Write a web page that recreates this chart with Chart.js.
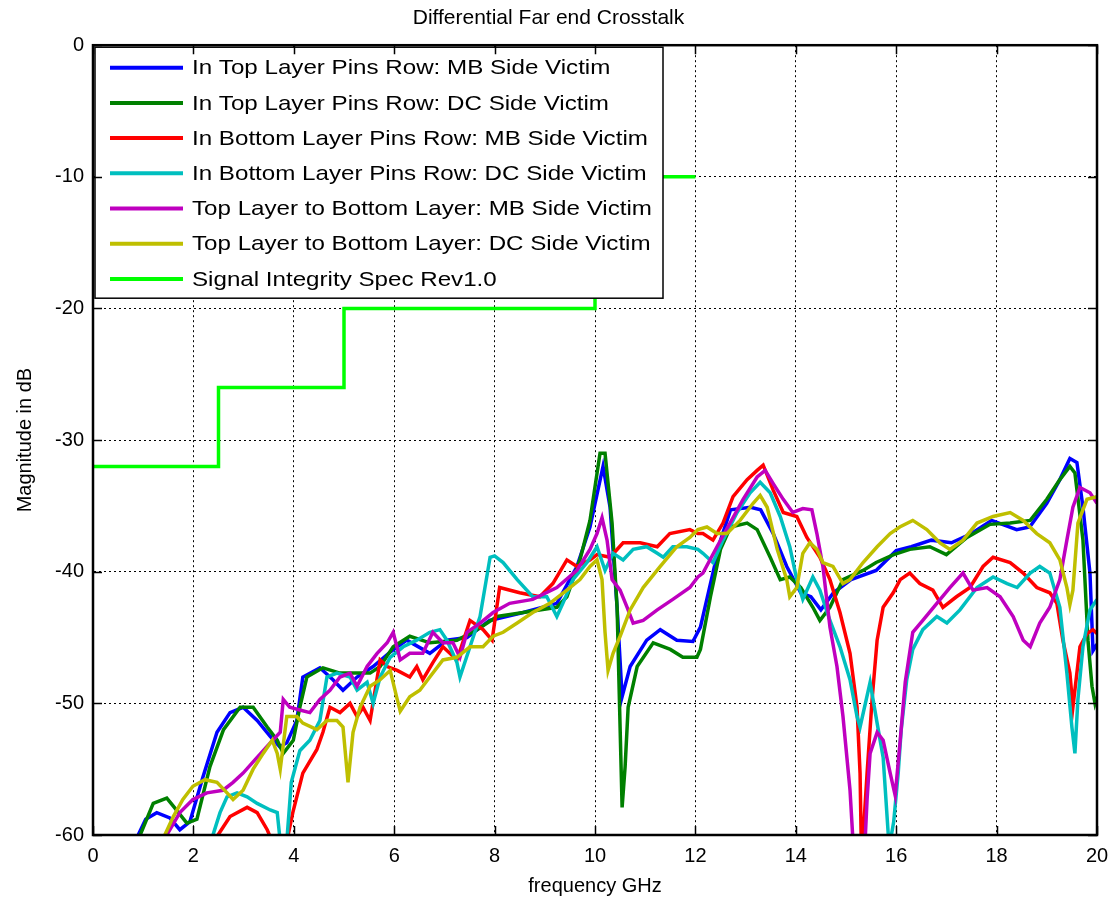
<!DOCTYPE html>
<html>
<head>
<meta charset="utf-8">
<script src="https://cdn.jsdelivr.net/npm/chart.js@4.4.1/dist/chart.umd.min.js"></script>
<style>
  html, body { margin: 0; padding: 0; background: #fff; }
  #wrap { width: 1113px; height: 903px; }
</style>
</head>
<body>
<div id="wrap"><canvas id="xtalk"></canvas></div>
<script>
// tick values
const freqTicks = [0, 2, 4, 6, 8, 10, 12, 14, 16, 18, 20];
const dbTicks = [0, -10, -20, -30, -40, -50, -60];

const seriesLabels = [
  'In Top Layer Pins Row: MB Side Victim',
  'In Top Layer Pins Row: DC Side Victim',
  'In Bottom Layer Pins Row: MB Side Victim',
  'In Bottom Layer Pins Row: DC Side Victim',
  'Top Layer to Bottom Layer: MB Side Victim',
  'Top Layer to Bottom Layer: DC Side Victim',
  'Signal Integrity Spec Rev1.0'
];

// In Top Layer Pins Row: MB Side Victim
const topMbFreq = [0.85, 0.9, 1.05, 1.27, 1.53, 1.73, 1.93, 2.19, 2.47, 2.73, 2.99, 3.27, 3.53, 3.72, 3.86, 4.06, 4.18, 4.52, 4.78, 4.98, 5.26, 5.58, 5.92, 6.25, 6.71, 7.05, 7.45, 7.9, 8.57, 9.24, 9.64, 9.9, 10.16, 10.3, 10.44, 10.54, 10.7, 11.03, 11.3, 11.63, 11.95, 12.1, 12.3, 12.5, 12.7, 13.1, 13.3, 13.55, 13.82, 14.1, 14.3, 14.5, 14.75, 15.1, 15.6, 16.0, 16.3, 16.7, 17.1, 17.5, 17.9, 18.4, 18.66, 19.0, 19.26, 19.46, 19.6, 19.72, 19.86, 19.92, 20];
const topMbDb = [-61, -60, -58.8, -58.3, -58.7, -59.6, -59, -55.6, -52.2, -50.7, -50.3, -51.3, -52.5, -53.3, -53, -51.3, -48, -47.3, -48.2, -49, -48, -47.2, -46.1, -45.2, -46.2, -45.2, -45, -43.7, -43.1, -42.4, -39.6, -36.6, -32, -35.1, -42.7, -49.5, -47.2, -45.2, -44.4, -45.2, -45.3, -44.2, -40.9, -37.6, -35.3, -35.1, -35.3, -37.1, -39.6, -41.6, -41.9, -42.9, -41.6, -40.6, -39.9, -38.4, -38.1, -37.6, -37.8, -37.1, -36.1, -36.8, -36.6, -34.8, -33, -31.4, -31.7, -35.1, -40.1, -46, -45.5];

// In Top Layer Pins Row: DC Side Victim
const topDcFreq = [0.9, 0.94, 1.2, 1.47, 1.6, 1.87, 2.07, 2.33, 2.6, 2.93, 3.19, 3.47, 3.67, 3.79, 3.99, 4.12, 4.26, 4.58, 4.92, 5.26, 5.52, 5.72, 5.98, 6.31, 6.71, 7.25, 7.65, 8.05, 8.57, 9.24, 9.44, 9.7, 9.9, 10.1, 10.2, 10.34, 10.44, 10.54, 10.6, 10.66, 10.84, 11.16, 11.5, 11.75, 12.03, 12.1, 12.3, 12.5, 12.7, 13.03, 13.23, 13.49, 13.69, 13.88, 14.1, 14.34, 14.48, 14.68, 14.94, 15.34, 15.6, 15.95, 16.27, 16.67, 17.0, 17.41, 17.87, 18.27, 18.67, 19.0, 19.26, 19.46, 19.56, 19.72, 19.82, 19.9, 19.96, 20];
const topDcDb = [-61, -60, -57.6, -57.2, -57.8, -59.1, -58.8, -54.8, -52, -50.3, -50.3, -51.8, -52.8, -53.8, -52.8, -50.3, -48, -47.3, -47.7, -47.7, -47.7, -47.2, -45.7, -44.9, -45.4, -45.2, -44.4, -43.4, -43.1, -42.7, -41.9, -39.1, -36.1, -31, -31, -36.3, -42.7, -57.9, -54.8, -50.3, -47.2, -45.4, -45.9, -46.5, -46.5, -45.9, -41.9, -38.3, -36.6, -36.3, -36.8, -38.9, -40.6, -40.4, -41.2, -42.7, -43.7, -42.7, -40.6, -39.9, -39.3, -38.7, -38.3, -38.1, -38.7, -37.4, -36.4, -36.3, -36.1, -34.5, -33, -32, -32.5, -37.6, -45.2, -48.7, -50, -49.5];

// In Bottom Layer Pins Row: MB Side Victim
const botMbFreq = [2.45, 2.49, 2.73, 3.07, 3.27, 3.47, 3.57, 3.72, 3.86, 3.98, 4.18, 4.46, 4.58, 4.72, 4.92, 5.12, 5.26, 5.38, 5.52, 5.72, 5.86, 6.06, 6.31, 6.45, 6.57, 6.77, 6.97, 7.25, 7.51, 7.77, 7.95, 8.1, 8.5, 8.9, 9.16, 9.44, 9.64, 9.9, 10.04, 10.3, 10.56, 10.9, 11.24, 11.49, 11.89, 12.05, 12.15, 12.35, 12.55, 12.75, 13.03, 13.23, 13.35, 13.55, 13.75, 14.02, 14.22, 14.48, 14.68, 14.88, 15.08, 15.22, 15.28, 15.31, 15.42, 15.52, 15.62, 15.74, 15.94, 16.08, 16.27, 16.47, 16.73, 16.93, 17.2, 17.47, 17.73, 17.93, 18.27, 18.53, 18.8, 19.06, 19.2, 19.32, 19.46, 19.52, 19.66, 19.8, 19.92, 20];
const botMbDb = [-61, -60, -58.6, -57.9, -58.3, -59.6, -60.5, -62, -60.5, -58.3, -55.3, -53.5, -52.2, -50.3, -50.7, -50, -51, -50.3, -51.3, -46.7, -47.2, -47.5, -48, -47.2, -48.2, -46.9, -45.7, -46.7, -43.7, -44.4, -45.2, -41.2, -41.6, -41.9, -40.9, -39.1, -39.6, -39.1, -38.7, -38.9, -37.8, -37.8, -38.1, -37.1, -36.8, -37.1, -37.1, -37.6, -36.3, -34.3, -33, -32.3, -31.9, -33.8, -35.5, -35.8, -37.4, -38.9, -40.6, -43.1, -46.2, -50.3, -55.3, -62, -55.3, -49.7, -45.2, -42.7, -41.6, -40.6, -40.1, -40.9, -41.4, -42.7, -41.9, -41.2, -39.6, -38.9, -39.3, -40.1, -41.2, -41.6, -42.4, -45.2, -47.7, -50.3, -45.7, -44.7, -44.4, -44.7];

// In Bottom Layer Pins Row: DC Side Victim
const botDcFreq = [2.35, 2.39, 2.53, 2.67, 2.87, 3.07, 3.27, 3.53, 3.67, 3.73, 3.8, 3.86, 3.95, 4.12, 4.32, 4.52, 4.66, 4.86, 5.12, 5.26, 5.46, 5.58, 5.72, 5.92, 6.18, 6.45, 6.71, 6.91, 7.05, 7.25, 7.31, 7.51, 7.71, 7.91, 8.0, 8.17, 8.45, 8.76, 9.04, 9.24, 9.36, 9.56, 9.84, 10.04, 10.2, 10.36, 10.56, 10.76, 11.03, 11.24, 11.36, 11.55, 11.83, 12.05, 12.15, 12.35, 12.55, 12.83, 13.09, 13.29, 13.49, 13.69, 13.88, 14.02, 14.14, 14.34, 14.48, 14.68, 14.88, 15.08, 15.22, 15.28, 15.48, 15.62, 15.74, 15.86, 15.95, 16.04, 16.1, 16.21, 16.33, 16.53, 16.81, 17.01, 17.27, 17.61, 17.93, 18.21, 18.41, 18.67, 18.86, 19.06, 19.26, 19.4, 19.5, 19.56, 19.62, 19.72, 19.86, 20];
const botDcDb = [-61, -60, -58.3, -57.1, -56.8, -57.1, -57.6, -58.1, -58.3, -60.5, -62, -60.5, -56, -53.6, -52.8, -51.3, -48, -47.7, -48, -49, -48.4, -50, -48, -46.5, -45.7, -45.2, -44.6, -44.4, -45.2, -46.9, -48, -45.7, -43.4, -38.9, -38.8, -39.3, -40.6, -41.9, -41.9, -43.4, -42.4, -40.6, -39.3, -38.1, -39.9, -38.6, -39.1, -38.3, -38.1, -38.6, -38.9, -38.1, -38.1, -38.3, -38.6, -39.3, -37.6, -35.5, -34, -33.2, -34, -35.8, -38.1, -40.6, -42.1, -40.4, -41.4, -43.7, -45.7, -48.2, -51, -51.8, -48.4, -51.5, -54.1, -61, -59, -55.3, -52, -48.2, -45.9, -44.4, -43.4, -43.9, -42.9, -41.2, -40.4, -40.9, -41.2, -40.1, -39.6, -40.1, -42.7, -47.7, -51.8, -53.8, -49.7, -45.7, -42.9, -42.1];

// Top Layer to Bottom Layer: MB Side Victim
const tbMbFreq = [1.43, 1.47, 1.73, 1.99, 2.27, 2.59, 2.79, 2.99, 3.27, 3.53, 3.73, 3.79, 3.92, 4.12, 4.32, 4.52, 4.72, 4.92, 5.12, 5.26, 5.46, 5.66, 5.86, 5.98, 6.12, 6.31, 6.57, 6.77, 6.97, 7.17, 7.31, 7.45, 7.71, 7.97, 8.3, 8.76, 9.24, 9.64, 9.9, 10.04, 10.14, 10.24, 10.34, 10.5, 10.64, 10.76, 10.96, 11.24, 11.55, 11.89, 12.05, 12.15, 12.43, 12.69, 12.95, 13.23, 13.39, 13.55, 13.75, 13.94, 14.14, 14.32, 14.42, 14.54, 14.68, 14.82, 14.94, 15.08, 15.14, 15.25, 15.38, 15.42, 15.48, 15.62, 15.74, 15.88, 15.98, 16.08, 16.18, 16.33, 16.53, 16.81, 17.07, 17.33, 17.53, 17.81, 18.07, 18.33, 18.53, 18.67, 18.86, 19.06, 19.26, 19.4, 19.52, 19.66, 19.86, 20];
const tbMbDb = [-61, -60, -58.3, -57.3, -56.8, -56.6, -56, -55.3, -54.1, -53, -52.2, -49.7, -50.3, -50.5, -50.7, -49.7, -49, -48, -47.7, -48.7, -47.2, -46.2, -45.4, -44.6, -46.7, -46.2, -46.2, -44.6, -45.4, -45.4, -46.5, -44.6, -43.9, -43.1, -42.4, -42.1, -41.2, -39.9, -38.3, -37.1, -35.9, -37.6, -40.6, -41.4, -42.7, -43.9, -43.7, -42.9, -42.1, -41.2, -40.4, -40.1, -38.1, -36.3, -34.5, -32.8, -32.3, -33.3, -34.5, -35.5, -35.2, -35.3, -37.1, -39.6, -44.2, -47.2, -51, -56.6, -60.5, -63, -60.5, -57.3, -53.8, -52.2, -52.8, -55.3, -57, -52.8, -48.4, -44.6, -43.7, -42.4, -41.2, -40.1, -41.4, -41.2, -41.9, -43.4, -45.2, -45.7, -43.9, -42.7, -40.6, -37.6, -35.1, -33.6, -34, -34.8];

// Top Layer to Bottom Layer: DC Side Victim
const tbDcFreq = [1.4, 1.43, 1.6, 1.79, 1.99, 2.23, 2.47, 2.67, 2.79, 2.99, 3.19, 3.39, 3.57, 3.67, 3.73, 3.86, 4.06, 4.18, 4.46, 4.66, 4.86, 4.98, 5.08, 5.18, 5.32, 5.52, 5.72, 5.92, 6.06, 6.12, 6.31, 6.51, 6.71, 6.97, 7.25, 7.51, 7.77, 7.97, 8.17, 8.45, 8.76, 9.1, 9.44, 9.7, 9.9, 10.04, 10.14, 10.2, 10.26, 10.36, 10.5, 10.7, 10.96, 11.3, 11.63, 11.89, 12.05, 12.23, 12.43, 12.63, 12.89, 13.15, 13.29, 13.43, 13.63, 13.82, 13.88, 14.02, 14.14, 14.28, 14.42, 14.54, 14.74, 14.94, 15.08, 15.34, 15.62, 15.88, 16.07, 16.33, 16.61, 16.87, 17.07, 17.33, 17.61, 17.93, 18.27, 18.53, 18.8, 19.06, 19.26, 19.4, 19.46, 19.52, 19.62, 19.8, 20];
const tbDcDb = [-61, -60, -58.6, -57.3, -56.3, -55.8, -56, -56.8, -57.3, -56.6, -55, -53.8, -52.8, -53.8, -55, -51, -51, -51.5, -52, -51.3, -51.3, -51.8, -56, -52.2, -50.3, -48.7, -48.2, -47.5, -49.7, -50.6, -49.5, -49, -48, -46.7, -46.5, -45.7, -45.7, -44.9, -44.6, -43.9, -43.1, -42.4, -41.4, -40.6, -39.6, -39.1, -40.6, -44.6, -47.5, -46.2, -44.9, -42.9, -41.2, -39.6, -38.1, -37.4, -36.8, -36.6, -37.1, -37.1, -36.1, -34.8, -34.2, -35.1, -38.3, -40.6, -41.9, -41.2, -38.6, -37.8, -38.3, -39.3, -39.6, -40.9, -40.6, -39.3, -38.1, -37.1, -36.6, -36.1, -36.8, -37.8, -38.3, -37.6, -36.3, -35.8, -35.5, -36.1, -37.1, -37.8, -39.1, -41.2, -42.5, -41.4, -36.3, -34.5, -34.3];

// Signal Integrity Spec Rev1.0 (step limits)
const specFreq = [0, 2.5, 5, 10, 12];
const specDb = [-32, -26, -20, -10, -10];

const seriesColors = ['#0000ff', '#008000', '#ff0000', '#00bfbf', '#bf00bf', '#bfbf00', '#00ff00'];

function pairUp(fs, ds) {
  return fs.map((f, i) => ({ x: f, y: ds[i] }));
}

const allFreq = [topMbFreq, topDcFreq, botMbFreq, botDcFreq, tbMbFreq, tbDcFreq, specFreq];
const allDb = [topMbDb, topDcDb, botMbDb, botDcDb, tbMbDb, tbDcDb, specDb];

const fontFam = "'Liberation Sans', Arial, Helvetica, sans-serif";

// legend drawn inside the plot, top left, like the original figure
const insideLegend = {
  id: 'insideLegend',
  afterDatasetsDraw(chart) {
    const ctx = chart.ctx;
    const a = chart.chartArea;
    const bx = a.left + 2, by = a.top + 2, bw = 568, bh = 251;
    ctx.save();
    ctx.fillStyle = '#fff';
    ctx.fillRect(bx, by, bw, bh);
    ctx.strokeStyle = '#000';
    ctx.lineWidth = 1.5;
    ctx.strokeRect(bx, by, bw, bh);
    ctx.font = '21px ' + fontFam;
    ctx.textBaseline = 'middle';
    ctx.fillStyle = '#000';
    chart.data.datasets.forEach((ds, i) => {
      const y = by + 20.5 + i * 35.2;
      ctx.strokeStyle = ds.borderColor;
      ctx.lineWidth = 4;
      ctx.beginPath();
      ctx.moveTo(bx + 15, y);
      ctx.lineTo(bx + 88, y);
      ctx.stroke();
      ctx.save();
      ctx.translate(bx + 97, y + 1);
      ctx.scale(1.15, 1);
      ctx.fillText(ds.label, 0, 0);
      ctx.restore();
    });
    ctx.restore();
  }
};

// full box around the axes plus small inward tick marks
const axesBox = {
  id: 'axesBox',
  afterDraw(chart) {
    const ctx = chart.ctx;
    const a = chart.chartArea;
    const xs = chart.scales.x, ys = chart.scales.y;
    ctx.save();
    ctx.strokeStyle = '#000';
    ctx.lineWidth = 1.5;
    ctx.beginPath();
    freqTicks.forEach(f => {
      const px = Math.round(xs.getPixelForValue(f)) + 0.5;
      ctx.moveTo(px, a.bottom); ctx.lineTo(px, a.bottom - 9);
      ctx.moveTo(px, a.top); ctx.lineTo(px, a.top + 9);
    });
    dbTicks.forEach(d => {
      const py = Math.round(ys.getPixelForValue(d)) + 0.5;
      ctx.moveTo(a.left, py); ctx.lineTo(a.left + 9, py);
      ctx.moveTo(a.right, py); ctx.lineTo(a.right - 9, py);
    });
    ctx.stroke();
    ctx.lineWidth = 2.5;
    ctx.strokeRect(a.left, a.top, a.right - a.left, a.bottom - a.top);
    ctx.restore();
  }
};

const datasets = seriesLabels.map((lab, i) => ({
  label: lab,
  data: pairUp(allFreq[i], allDb[i]),
  borderColor: seriesColors[i],
  backgroundColor: seriesColors[i],
  borderWidth: 3.5,
  pointRadius: 0,
  tension: 0,
  fill: false,
  stepped: i === 6 ? 'before' : false,
  order: 10 - i
}));

new Chart(document.getElementById('xtalk'), {
  type: 'line',
  data: { datasets: datasets },
  options: {
    responsive: true,
    maintainAspectRatio: false,
    animation: false,
    layout: { padding: { left: 0, right: 16, top: 0, bottom: 0 } },
    plugins: {
      legend: { display: false },
      tooltip: { enabled: false },
      title: {
        display: true,
        text: 'Differential Far end Crosstalk',
        color: '#000',
        font: { family: fontFam, size: 21, weight: 'normal' },
        padding: { top: 6, bottom: 14 }
      }
    },
    scales: {
      x: {
        type: 'linear',
        min: 0,
        max: 20,
        afterFit(s) { s.height = 68; s.paddingLeft = 0; s.paddingRight = 0; },
        afterBuildTicks(s) { s.ticks = freqTicks.map(v => ({ value: v })); },
        ticks: {
          color: '#000',
          padding: 9,
          maxRotation: 0,
          font: { family: fontFam, size: 20 }
        },
        grid: { color: '#000', lineWidth: 1, drawTicks: false },
        border: { display: true, color: '#000', width: 2, dash: [2, 3] },
        title: {
          display: true,
          text: 'frequency GHz',
          color: '#000',
          font: { family: fontFam, size: 20 },
          padding: { top: 0, bottom: 5 }
        }
      },
      y: {
        type: 'linear',
        min: -60,
        max: 0,
        afterFit(s) { s.width = 93; s.paddingTop = 0; s.paddingBottom = 0; },
        afterBuildTicks(s) { s.ticks = dbTicks.slice().reverse().map(v => ({ value: v })); },
        ticks: {
          color: '#000',
          padding: 9,
          font: { family: fontFam, size: 20 }
        },
        grid: { color: '#000', lineWidth: 1, drawTicks: false },
        border: { display: true, color: '#000', width: 2, dash: [2, 3] },
        title: {
          display: true,
          text: 'Magnitude in dB',
          color: '#000',
          font: { family: fontFam, size: 20 },
          padding: { top: 13, bottom: 0 }
        }
      }
    }
  },
  plugins: [insideLegend, axesBox]
});
</script>
</body>
</html>
